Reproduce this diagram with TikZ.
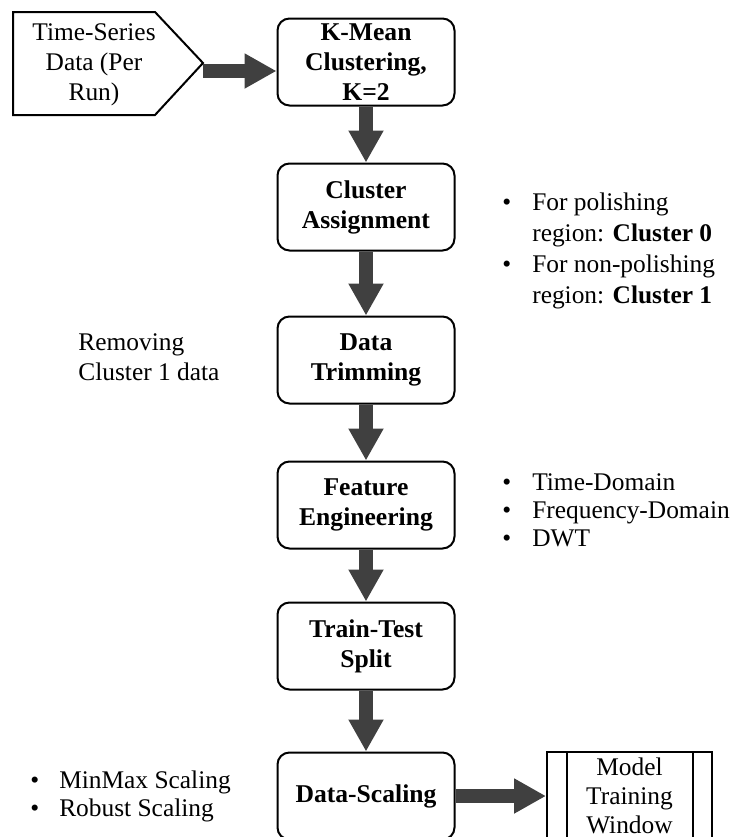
\documentclass[tikz,border=0pt]{standalone}
\usepackage{fontspec}
\setmainfont{Liberation Serif}
\usepackage{tikz}
\usetikzlibrary{arrows.meta}
\definecolor{arrowgray}{RGB}{64,64,64}

\tikzset{
  stepbox/.style={draw, line width=1pt, rounded corners=6pt, minimum width=88.5pt,
    minimum height=43.5pt, inner sep=0pt, align=center,
    font=\fontsize{12.8}{15}\selectfont\bfseries},
  bigarrow/.style={arrowgray, line width=7pt, -{Triangle[width=16.5pt,length=16pt]}},
  plaintext/.style={inner sep=0pt, align=left, font=\fontsize{12.7}{15}\selectfont},
}

\begin{document}
\begin{tikzpicture}[x=0.5pt,y=-0.5pt]
  \useasboundingbox (0,0) rectangle (732,837);
  \clip (0,0) rectangle (732,837);

  \draw [line width=1pt] (13,12) -- (155,12) -- (203,63) -- (155,115) -- (13,115) -- cycle;
  \coordinate (intip) at (203,71);
  \node [plaintext, align=center] (input) at (94,65) {Time-Series\\Data (Per\\Run)};

  \node [stepbox] (kmean) at (366,62) {K-Mean\\Clustering,\\K=2};
  \node [stepbox] (assign) at (366,207) {Cluster\\Assignment};
  \node [stepbox] (trim) at (366,360) {Data\\Trimming};
  \node [stepbox] (feat) at (366,505) {Feature\\Engineering};
  \node [stepbox] (split) at (366,646) {Train-Test\\Split};
  \node [stepbox] (scaling) at (366,796) {Data-Scaling};

  \node [draw, line width=1pt, minimum width=82.5pt, minimum height=44pt, inner sep=0pt,
    align=center, font=\fontsize{12.7}{14.5}\selectfont] (model) at (629.5,796)
    {Model\\Training\\Window};
  \draw [line width=1pt] ([xshift=10.5pt]model.north west) -- ([xshift=10.5pt]model.south west)
    ([xshift=-10pt]model.north east) -- ([xshift=-10pt]model.south east);

  \draw [bigarrow] (intip) -- (kmean.west |- intip);
  \draw [bigarrow] (kmean) -- (assign);
  \draw [bigarrow] (assign) -- (trim);
  \draw [bigarrow] (trim) -- (feat);
  \draw [bigarrow] (feat) -- (split);
  \draw [bigarrow] (split) -- (scaling);
  \draw [bigarrow] (scaling) -- (model);

  \node [plaintext, anchor=west, font=\fontsize{12.7}{15.5}\selectfont] (clusternote) at (502,251) {%
    \begin{tabular}{@{}l@{\hspace{10.5pt}}l@{}}
      \textbullet & For polishing\\
      & region: \textbf{Cluster 0}\\
      \textbullet & For non-polishing\\
      & region: \textbf{Cluster 1}
    \end{tabular}};
  \node [plaintext, anchor=west] (trimnote) at (78,357) {Removing\\Cluster 1 data};
  \node [plaintext, anchor=west, font=\fontsize{12.7}{14}\selectfont] (featnote) at (502,513) {%
    \begin{tabular}{@{}l@{\hspace{10.5pt}}l@{}}
      \textbullet & Time-Domain\\
      \textbullet & Frequency-Domain\\
      \textbullet & DWT
    \end{tabular}};
  \node [plaintext, anchor=west, font=\fontsize{12.7}{14}\selectfont] (scalenote) at (30,797) {%
    \begin{tabular}{@{}l@{\hspace{10pt}}l@{}}
      \textbullet & MinMax Scaling\\
      \textbullet & Robust Scaling
    \end{tabular}};
\end{tikzpicture}
\end{document}
